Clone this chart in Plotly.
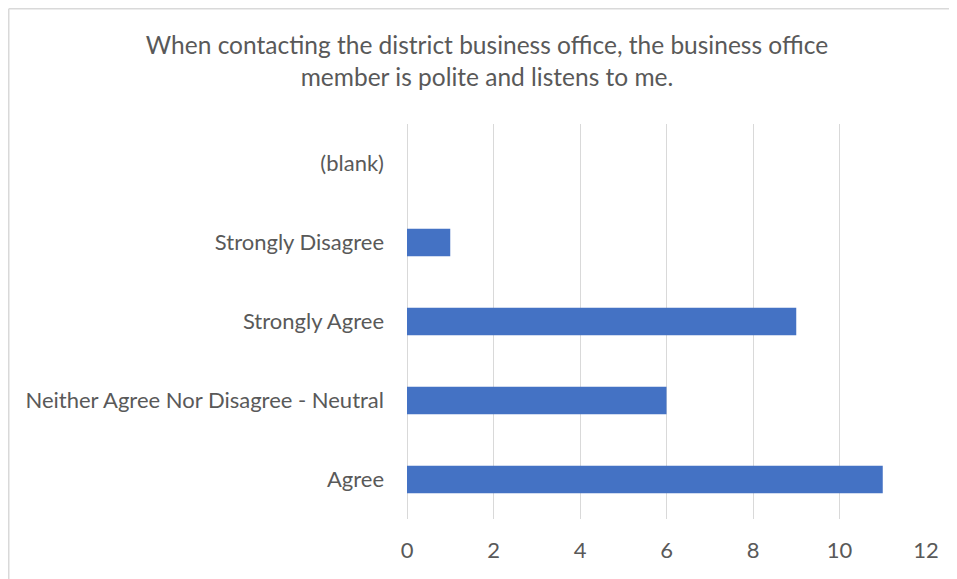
import plotly.graph_objects as go

categories = ["Agree", "Neither Agree Nor Disagree - Neutral", "Strongly Agree", "Strongly Disagree", "(blank)"]
counts = [11, 6, 9, 1, None]
x_ticks = [0, 2, 4, 6, 8, 10, 12]
title_text = "When contacting the district business office, the business office<br>member is polite and listens to me."

# page has 8px body margin; figure coords = page coords - 8
W, H = 949, 571
L, R, T, B = 399, 31, 116, 60
pw, ph = W - L - R, H - T - B

def px2paper_x(px):
    return (px - L) / pw

def px2paper_y(py):
    return (H - B - py) / ph

fig = go.Figure(go.Bar(
    x=counts, y=categories, orientation="h",
    marker=dict(color="#4472C4", line=dict(width=0)),
    width=0.35,
))

fig.update_layout(
    width=W, height=H,
    margin=dict(l=L, r=R, t=T, b=B, pad=0),
    paper_bgcolor="white", plot_bgcolor="white",
    font=dict(family="Lato", color="#595959", size=22),
    title=dict(text=title_text, x=479 / W, xanchor="center", y=1 - 46 / H, yanchor="middle",
               font=dict(family="Lato", size=24.5, color="#595959")),
    showlegend=False,
    xaxis=dict(range=[0, 12], tickvals=x_ticks, showgrid=True, gridcolor="#d9d9d9", gridwidth=1,
               zeroline=True, zerolinecolor="#d9d9d9", zerolinewidth=1, showline=False,
               ticks="", ticklabelstandoff=16, tickfont=dict(size=22, color="#595959")),
    yaxis=dict(type="category", categoryorder="array", categoryarray=categories,
               showgrid=False, zeroline=False, showline=False, ticks="",
               ticklabelstandoff=22, tickfont=dict(size=22, color="#595959")),
    shapes=[
        dict(type="line", xref="paper", yref="paper",
             x0=px2paper_x(0.75), x1=px2paper_x(0.75), y0=px2paper_y(0.75), y1=px2paper_y(H + 10),
             line=dict(color="#d9d9d9", width=1.5)),
        dict(type="line", xref="paper", yref="paper",
             x0=px2paper_x(0.75), x1=px2paper_x(W + 10), y0=px2paper_y(0.75), y1=px2paper_y(0.75),
             line=dict(color="#d9d9d9", width=1.5)),
    ],
)

fig.write_html("out.html")
